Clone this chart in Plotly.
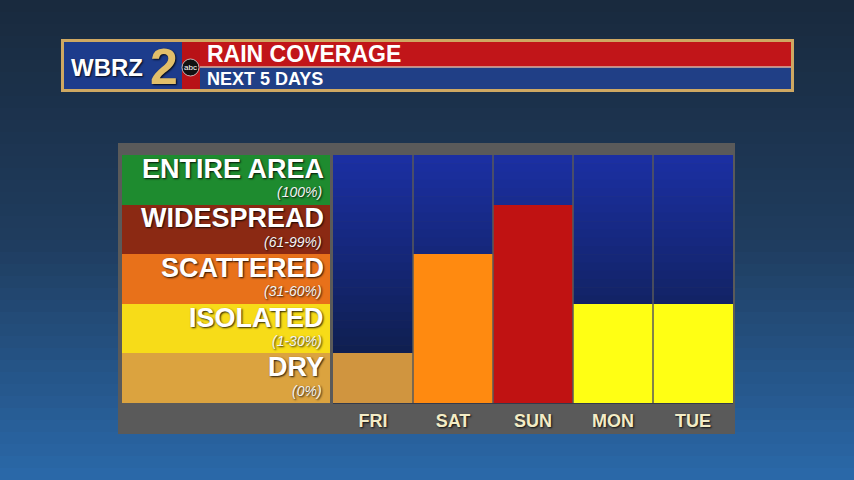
import plotly.graph_objects as go

# ---------------- data ----------------
days = ["FRI", "SAT", "SUN", "MON", "TUE"]
coverage_levels = [1, 3, 4, 2, 2]          # 1 = dry ... 5 = entire area
bar_colors = ["#d0953f", "#ff8a10", "#c01212", "#ffff14", "#ffff14"]

categories = ["DRY", "ISOLATED", "SCATTERED", "WIDESPREAD", "ENTIRE AREA"]
category_ranges = ["(0%)", "(1-30%)", "(31-60%)", "(61-99%)", "(100%)"]
category_colors = ["#dba33f", "#f7dc18", "#e8711a", "#8b2913", "#1e8b2f"]

title_main = "RAIN COVERAGE"
title_sub = "NEXT 5 DAYS"

W, H = 854, 480
FONT = "Liberation Sans, Arial, sans-serif"
SHADOW = "1px 1px 2px rgba(0,0,0,0.85)"


def px(x):
    return x / W


def py(y):
    return 1 - y / H


def lerp(c1, c2, t):
    a = [int(c1[i:i + 2], 16) for i in (1, 3, 5)]
    b = [int(c2[i:i + 2], 16) for i in (1, 3, 5)]
    return "rgb(%d,%d,%d)" % tuple(round(a[k] + (b[k] - a[k]) * t) for k in range(3))


shapes = []
# page background gradient
N = 40
for i in range(N):
    t = i / (N - 1)
    if t < 0.5:
        col = lerp("#192a3e", "#1f3c5e", t / 0.5)
    else:
        col = lerp("#1f3c5e", "#2a68a8", (t - 0.5) / 0.5)
    shapes.append(dict(type="rect", xref="paper", yref="paper", layer="below",
                       x0=0, x1=1, y0=1 - (i + 1) / N - 0.002, y1=1 - i / N,
                       fillcolor=col, line_width=0))

# chart panel
shapes.append(dict(type="rect", xref="paper", yref="paper", layer="below",
                   x0=px(118), x1=px(735), y0=py(434), y1=py(143),
                   fillcolor="#5a5a5a", line_width=0))

# navy gradient behind bars
M = 30
top_y, bot_y = 155, 403
for i in range(M):
    t = i / (M - 1)
    col = lerp("#1b2fa2", "#0c1b3c", t)
    y1 = top_y + (bot_y - top_y) * i / M
    y0 = top_y + (bot_y - top_y) * (i + 1) / M + 0.5
    shapes.append(dict(type="rect", xref="paper", yref="paper", layer="below",
                       x0=px(333), x1=px(733), y0=py(y0), y1=py(y1),
                       fillcolor=col, line_width=0))

# header bar
shapes += [
    dict(type="rect", xref="paper", yref="paper", x0=px(61), x1=px(794), y0=py(92), y1=py(39),
         fillcolor="#cfa862", line_width=0, layer="below"),
    dict(type="rect", xref="paper", yref="paper", x0=px(64), x1=px(791), y0=py(67), y1=py(42),
         fillcolor="#c11519", line_width=0, layer="below"),
    dict(type="rect", xref="paper", yref="paper", x0=px(64), x1=px(791), y0=py(89), y1=py(67),
         fillcolor="#203f86", line_width=0, layer="below"),
    dict(type="line", xref="paper", yref="paper", x0=px(64), x1=px(791), y0=py(67), y1=py(67),
         line=dict(color="#d9b3a0", width=1.5), layer="below"),
    # logo block
    dict(type="rect", xref="paper", yref="paper", x0=px(64), x1=px(182), y0=py(89), y1=py(42),
         fillcolor="#1d3c8c", line_width=0, layer="below"),
    dict(type="rect", xref="paper", yref="paper", x0=px(182), x1=px(200), y0=py(89), y1=py(42),
         fillcolor="#b81217", line_width=0, layer="below"),
]

# separators between day columns
for i in range(len(days) - 1):
    shapes.append(dict(type="line", xref="x", yref="paper", x0=i + 0.5, x1=i + 0.5,
                       y0=py(403), y1=py(155), line=dict(color="#5a5a5a", width=1.5)))

fig = go.Figure()

# legend rows (category blocks)
fig.add_trace(go.Bar(
    x=[1] * len(categories), y=[i + 0.5 for i in range(len(categories))],
    orientation="h", width=1, marker=dict(color=category_colors, line_width=0),
    xaxis="x2", yaxis="y", hoverinfo="skip", showlegend=False))

# coverage bars
fig.add_trace(go.Bar(
    x=days, y=coverage_levels, width=1,
    marker=dict(color=bar_colors, line_width=0),
    xaxis="x", yaxis="y", hoverinfo="skip", showlegend=False))

annotations = []
for i, (name, rng) in enumerate(zip(categories, category_ranges)):
    annotations.append(dict(xref="x2", yref="y", x=0.98, y=i + 0.72, text="<b>%s</b>" % name,
                            xanchor="right", yanchor="middle", showarrow=False,
                            font=dict(family=FONT, size=27, color="white", shadow=SHADOW)))
    annotations.append(dict(xref="x2", yref="y", x=0.97, y=i + 0.25, text="<i>%s</i>" % rng,
                            xanchor="right", yanchor="middle", showarrow=False,
                            font=dict(family=FONT, size=14, color="#f4f4f4", shadow=SHADOW)))

annotations += [
    dict(xref="paper", yref="paper", x=px(205), y=py(54), text="<b>%s</b>" % title_main,
         xanchor="left", yanchor="middle", showarrow=False,
         font=dict(family=FONT, size=23, color="white")),
    dict(xref="paper", yref="paper", x=px(205), y=py(79), text="<b>%s</b>" % title_sub,
         xanchor="left", yanchor="middle", showarrow=False,
         font=dict(family=FONT, size=18, color="white")),
    dict(xref="paper", yref="paper", x=px(69), y=py(67), text="<b>WBRZ</b>",
         xanchor="left", yanchor="middle", showarrow=False,
         font=dict(family=FONT, size=24, color="white", shadow=SHADOW)),
    dict(xref="paper", yref="paper", x=px(164), y=py(67), text="<b>2</b>",
         xanchor="center", yanchor="middle", showarrow=False,
         font=dict(family=FONT, size=50, color="#e2bf6a", shadow=SHADOW)),
]

shapes.append(dict(type="circle", xref="paper", yref="paper", x0=px(182), x1=px(199),
                   y0=py(76), y1=py(59), fillcolor="#111111",
                   line=dict(color="#dddddd", width=0.8)))
annotations.append(dict(xref="paper", yref="paper", x=px(190.5), y=py(67.5), text="abc",
                        xanchor="center", yanchor="middle", showarrow=False,
                        font=dict(family=FONT, size=8, color="white")))

fig.update_layout(
    width=W, height=H,
    margin=dict(l=0, r=0, t=0, b=0),
    paper_bgcolor="#1f3c5e", plot_bgcolor="rgba(0,0,0,0)",
    barmode="overlay", bargap=0,
    xaxis=dict(domain=[px(333), px(733)], range=[-0.5, 4.5], showgrid=False, zeroline=False,
               showline=False, ticks="", tickfont=dict(family=FONT, size=18, color="#f3ecc6",
                                                       shadow=SHADOW),
               tickprefix="<b>", ticksuffix="</b>", ticklabelstandoff=5, fixedrange=True),
    xaxis2=dict(domain=[px(122), px(330)], range=[0, 1], showgrid=False, zeroline=False,
                showticklabels=False, anchor="y", fixedrange=True),
    yaxis=dict(domain=[py(403), py(155)], range=[0, 5], showgrid=False, zeroline=False,
               showticklabels=False, fixedrange=True),
    shapes=shapes,
    annotations=annotations,
    showlegend=False,
)

fig.write_html("out.html", config={"displayModeBar": False},
               post_script="document.body.style.margin='0';document.body.style.padding='0';"
                           "document.body.style.overflow='hidden';")
